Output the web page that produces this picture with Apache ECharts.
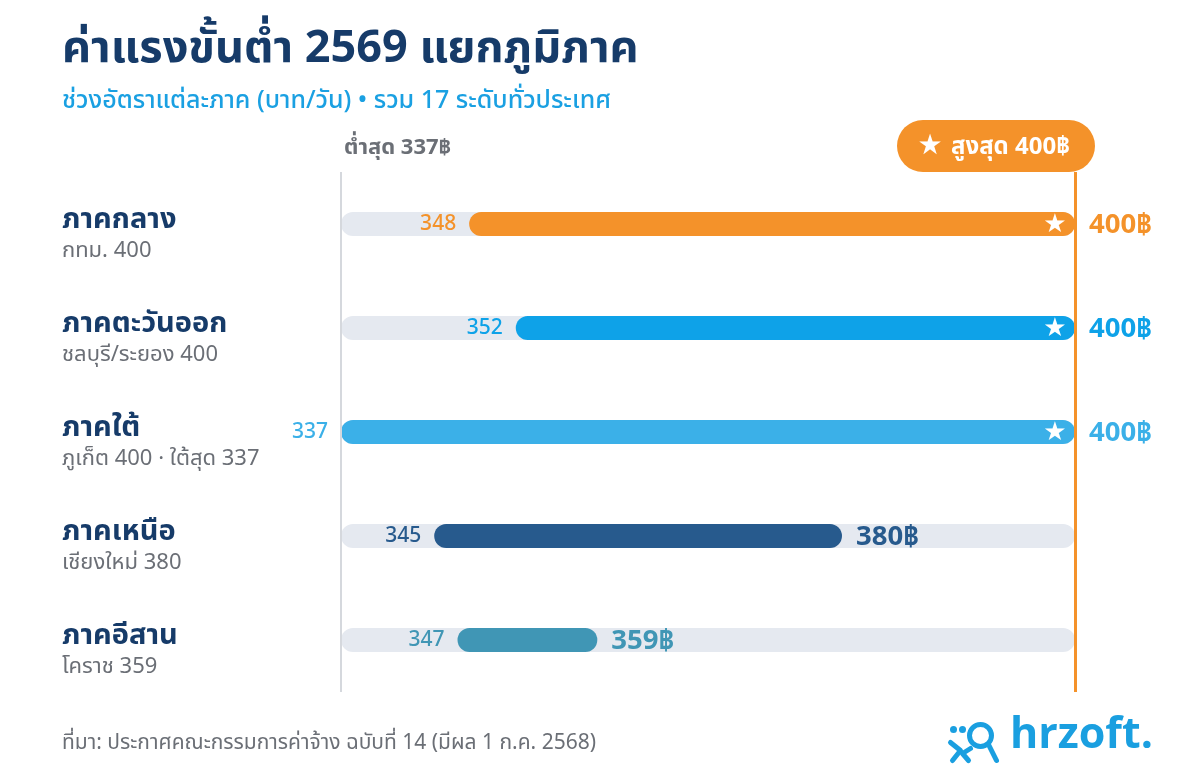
<!DOCTYPE html>
<html>
<head>
<meta charset="utf-8">
<title>ค่าแรงขั้นต่ำ 2569 แยกภูมิภาค</title>
<script src="https://cdn.jsdelivr.net/npm/echarts@6/dist/echarts.min.js"></script>
<style>
  html, body { margin: 0; padding: 0; background: #fff; }
  #main { width: 1200px; height: 780px; }
</style>
</head>
<body>
<div id="main"></div>
<script type="text/javascript">
// ข้อมูล
const regions = ['ภาคกลาง', 'ภาคตะวันออก', 'ภาคใต้', 'ภาคเหนือ', 'ภาคอีสาน'];
const regionNotes = ['กทม. 400', 'ชลบุรี/ระยอง 400', 'ภูเก็ต 400 · ใต้สุด 337', 'เชียงใหม่ 380', 'โคราช 359'];
const minWage = [348, 352, 337, 345, 347];
const maxWage = [400, 400, 400, 380, 359];
const regionColors = ['#f4922a', '#0ea2e8', '#3bb0e8', '#275a8d', '#4096b5'];
const nationalMin = 337;
const nationalMax = 400;

const FONT = '"Noto Sans Thai", "Noto Sans", "Noto Sans CJK SC", sans-serif';
const NAVY = '#163b69';
const GREY = '#6b6f76';

var chart = echarts.init(document.getElementById('main'));

function renderTrack(params, api) {
    let idx = api.value(0);
    let p0 = api.coord([api.value(1), idx]);
    let p1 = api.coord([api.value(2), idx]);
    let h = 24;
    return {
        type: 'rect',
        shape: { x: p0[0], y: p0[1] - h / 2, width: p1[0] - p0[0], height: h, r: h / 2 },
        style: { fill: '#e5e9f0' }
    };
}

function renderRange(params, api) {
    let idx = api.value(0);
    let lo = api.value(1), hi = api.value(2);
    let p0 = api.coord([lo, idx]);
    let p1 = api.coord([hi, idx]);
    let h = 24;
    let color = regionColors[idx];
    let children = [
        {
            type: 'rect',
            shape: { x: p0[0], y: p0[1] - h / 2, width: p1[0] - p0[0], height: h, r: h / 2 },
            style: { fill: color }
        },
        {
            type: 'text',
            style: {
                x: p0[0] - 13, y: p0[1] + 2, text: String(lo),
                fill: color, font: '500 21px ' + FONT,
                align: 'right', verticalAlign: 'middle'
            }
        }
    ];
    let top = hi === nationalMax;
    if (top) {
        children.push({
            type: 'text',
            style: {
                x: p1[0] - 20, y: p0[1] + 1, text: '★',
                fill: '#ffffff', font: '26px "DejaVu Sans", sans-serif',
                align: 'center', verticalAlign: 'middle'
            }
        });
    }
    children.push({
        type: 'text',
        style: {
            x: p1[0] + 14, y: p0[1] + 3, text: hi + '฿',
            fill: color, font: 'bold 27.5px ' + FONT,
            align: 'left', verticalAlign: 'middle'
        }
    });
    return { type: 'group', children: children };
}

chart.setOption({
    backgroundColor: '#ffffff',
    animation: false,
    grid: { left: 341, right: 125, top: 172, bottom: 88 },
    xAxis: {
        type: 'value', min: nationalMin, max: nationalMax,
        show: false
    },
    yAxis: {
        type: 'category', inverse: true,
        data: regions,
        axisLine: { show: false }, axisTick: { show: false }, splitLine: { show: false },
        axisLabel: {
            align: 'left', margin: 279,
            padding: [24, 0, 0, 0],
            formatter: function (v, i) {
                return '{name|' + v + '}\n{sub|' + regionNotes[i] + '}';
            },
            rich: {
                name: { fontFamily: FONT, fontSize: 29, fontWeight: 'bold', color: NAVY, lineHeight: 34 },
                sub: { fontFamily: FONT, fontSize: 22, color: GREY, lineHeight: 28 }
            }
        }
    },
    series: [
        {
            name: 'track', type: 'custom',
            renderItem: renderTrack,
            encode: { x: [1, 2], y: 0 },
            data: regions.map((r, i) => [i, nationalMin, nationalMax]),
            z: 1,
            markLine: {
                silent: true, symbol: 'none',
                label: { show: false },
                data: [
                    { xAxis: nationalMin, lineStyle: { color: '#d5d8dd', width: 2, type: 'solid' } },
                    { xAxis: nationalMax, lineStyle: { color: '#f4922a', width: 3, type: 'solid' } }
                ]
            }
        },
        {
            name: 'range', type: 'custom',
            renderItem: renderRange,
            encode: { x: [1, 2], y: 0 },
            data: regions.map((r, i) => [i, minWage[i], maxWage[i]]),
            z: 3
        }
    ],
    graphic: [
        {
            type: 'text', left: 62, top: 30,
            style: { text: 'ค่าแรงขั้นต่ำ 2569 แยกภูมิภาค', font: 'bold 45px ' + FONT, fill: NAVY }
        },
        {
            type: 'text', left: 62, top: 90,
            style: { text: 'ช่วงอัตราแต่ละภาค (บาท/วัน) • รวม 17 ระดับทั่วประเทศ', font: '500 25px ' + FONT, fill: '#1aa0e2' }
        },
        {
            type: 'text', left: 344, top: 139,
            style: { text: 'ต่ำสุด 337฿', font: 'bold 22px ' + FONT, fill: GREY }
        },
        {
            type: 'group', left: 897, top: 120,
            children: [
                { type: 'rect', shape: { x: 0, y: 0, width: 198, height: 52, r: 26 }, style: { fill: '#f4922a' } },
                { type: 'text', style: { x: 33, y: 27, text: '★', font: '28px "DejaVu Sans", sans-serif', fill: '#fff', align: 'center', verticalAlign: 'middle' } },
                { type: 'text', style: { x: 54, y: 29, text: 'สูงสุด 400฿', font: 'bold 24px ' + FONT, fill: '#fff', align: 'left', verticalAlign: 'middle' } }
            ]
        },
        {
            type: 'text', left: 62, top: 734,
            style: { text: 'ที่มา: ประกาศคณะกรรมการค่าจ้าง ฉบับที่ 14 (มีผล 1 ก.ค. 2568)', font: '21px ' + FONT, fill: GREY }
        },
        {
            type: 'group', left: 948, top: 722,
            children: [
                { type: 'circle', shape: { cx: 5, cy: 9, r: 3.5 }, style: { fill: '#1a9fe0' } },
                { type: 'circle', shape: { cx: 14, cy: 9, r: 3.5 }, style: { fill: '#1a9fe0' } },
                { type: 'arc', shape: { cx: 32, cy: 15, r: 11, startAngle: 0, endAngle: Math.PI * 2 }, style: { stroke: '#1a9fe0', lineWidth: 5, fill: 'none' } },
                { type: 'polyline', shape: { points: [[2, 22], [12, 30], [4, 40]] }, style: { stroke: '#1a9fe0', lineWidth: 5, fill: 'none', lineCap: 'round', lineJoin: 'round' } },
                { type: 'polyline', shape: { points: [[22, 28], [14, 33], [20, 40]] }, style: { stroke: '#1a9fe0', lineWidth: 5, fill: 'none', lineCap: 'round', lineJoin: 'round' } },
                { type: 'polyline', shape: { points: [[40, 24], [48, 40]] }, style: { stroke: '#1a9fe0', lineWidth: 5, fill: 'none', lineCap: 'round' } }
            ]
        },
        {
            type: 'text', left: 1010, top: 718,
            style: { text: 'hrzoft.', font: 'bold 43px ' + FONT, fill: '#1a9fe0' }
        }
    ]
});
</script>
</body>
</html>
